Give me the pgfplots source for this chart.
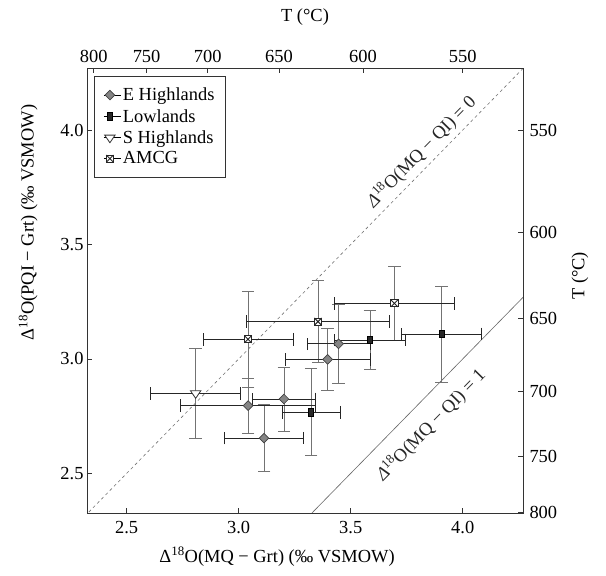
\documentclass[border=0pt]{standalone}
\usepackage{fontspec}
\setmainfont{Liberation Serif}
\usepackage{pgfplots}
\pgfplotsset{compat=1.18}
\usepackage{pgfplotstable}

\pgfdeclareplotmark{boxx}{%
  \pgfpathrectangle{\pgfqpoint{-\pgfplotmarksize}{-\pgfplotmarksize}}{\pgfqpoint{2\pgfplotmarksize}{2\pgfplotmarksize}}%
  \pgfusepathqfillstroke
  \pgfpathmoveto{\pgfqpoint{-\pgfplotmarksize}{-\pgfplotmarksize}}\pgfpathlineto{\pgfqpoint{\pgfplotmarksize}{\pgfplotmarksize}}%
  \pgfpathmoveto{\pgfqpoint{-\pgfplotmarksize}{\pgfplotmarksize}}\pgfpathlineto{\pgfqpoint{\pgfplotmarksize}{-\pgfplotmarksize}}%
  \pgfusepathqstroke}

\newcommand{\fs}{\fontsize{18.5}{21}\selectfont}

% x y ex ey
\pgfplotstableread{
x y ex ey
3.042 2.796 0.30 0.12
3.202 2.825 0.14 0.14
3.113 2.654 0.177 0.147
3.397 2.998 0.19 0.135
3.446 3.066 0.14 0.173
}\eh
\pgfplotstableread{
x y ex ey
3.323 2.767 0.13 0.19
3.586 3.083 0.157 0.13
3.905 3.109 0.18 0.21
}\lo
\pgfplotstableread{
x y ex ey
2.808 2.850 0.20 0.195
}\sh
\pgfplotstableread{
x y ex ey
3.042 3.086 0.20 0.21
3.695 3.243 0.27 0.16
3.354 3.163 0.32 0.18
}\am

\pgfplotsset{
  vbar/.style={only marks, mark=none, forget plot,
    error bars/.cd, y dir=both, y explicit,
    error bar style={black!55, line width=0.8bp},
    error mark options={rotate=90, black!55, line width=0.8bp, mark size=6.3bp}},
  hbar/.style={only marks, mark=none, forget plot,
    error bars/.cd, x dir=both, x explicit,
    error bar style={black!85, line width=0.8bp},
    error mark options={rotate=90, black!85, line width=0.8bp, mark size=6.3bp}},
  limg/.style={legend image code/.code={%
    \path (0bp,0bp) -- (17bp,0bp);
    \draw[##1] plot coordinates {(6bp,0bp)};}},
}

\begin{document}
\begin{tikzpicture}
\begin{axis}[
  name=main,
  scale only axis, width=436bp, height=445bp,
  xmin=2.323, xmax=4.269, ymin=2.327, ymax=4.271,
  axis line style={black!80, line width=0.9bp},
  xtick={2.5,3,3.5,4}, xticklabels={2.5,3.0,3.5,4.0},
  ytick={2.5,3,3.5,4}, yticklabels={2.5,3.0,3.5,4.0},
  xtick pos=lower, ytick pos=left,
  tick style={black!80, line width=0.8bp},
  major tick length=5bp,
  tick label style={font=\fs},
  xticklabel style={yshift=-5bp},
  xlabel={Δ\textsuperscript{18}O(MQ − Grt) (‰ VSMOW)},
  ylabel={Δ\textsuperscript{18}O(PQI − Grt) (‰ VSMOW)},
  every axis x label/.style={at={(axis description cs:0.436,-0.098)}, anchor=center, font=\fs},
  every axis y label/.style={at={(axis description cs:-0.135,0.653)}, anchor=center, rotate=90, font=\fs},
  legend style={at={(0,1)}, anchor=north west, xshift=7bp, yshift=-8bp, font=\fs,
    draw=black!80, line width=0.9bp, inner xsep=9bp, inner ysep=10bp, row sep=4bp,
    nodes={inner sep=1.5bp}},
  legend cell align=left,
]
\addplot[black!55, line width=0.6bp, dash pattern=on 3bp off 3bp, forget plot] coordinates {(2.2,2.2) (4.4,4.4)};
\addplot[black!60, line width=0.6bp, forget plot] coordinates {(3.2,2.2) (4.4,3.4)};

\addplot[vbar] table[x=x,y=y,y error=ey]{\eh};
\addplot[vbar] table[x=x,y=y,y error=ey]{\lo};
\addplot[vbar] table[x=x,y=y,y error=ey]{\sh};
\addplot[vbar] table[x=x,y=y,y error=ey]{\am};
\addplot[hbar] table[x=x,y=y,x error=ex]{\eh};
\addplot[hbar] table[x=x,y=y,x error=ex]{\lo};
\addplot[hbar] table[x=x,y=y,x error=ex]{\sh};
\addplot[hbar] table[x=x,y=y,x error=ex]{\am};

\addplot[only marks, limg, mark=square*, mark size=3.4bp,
  mark options={rotate=45, fill=black!48, draw=black!75, line width=0.7bp}] table[x=x,y=y]{\eh};
\addlegendentry{E Highlands}
\addplot[only marks, limg, mark=square*, mark size=3.6bp,
  mark options={xscale=0.7, fill=black!85, draw=black, line width=0.7bp}] table[x=x,y=y]{\lo};
\addlegendentry{Lowlands}
\addplot[only marks, limg, mark=triangle*, mark size=6bp,
  mark options={rotate=180, yscale=0.85, fill=white, draw=black!80, line width=0.8bp}] table[x=x,y=y]{\sh};
\addlegendentry{S Highlands}
\addplot[only marks, limg, mark=boxx, mark size=3.6bp,
  mark options={fill=white, draw=black!85, line width=0.9bp}] table[x=x,y=y]{\am};
\addlegendentry{AMCG}

\node[rotate=45.6, font=\fs, black!85] at (axis cs:3.816,3.906) {\textit{Δ}\textsuperscript{18}O(MQ − QI) = 0};
\node[rotate=45.6, font=\fs, black!85] at (axis cs:3.858,2.711) {\textit{Δ}\textsuperscript{18}O(MQ − QI) = 1};
\end{axis}

\begin{axis}[
  at={(main.south west)}, anchor=south west,
  scale only axis, width=436bp, height=445bp,
  xmin=2.323, xmax=4.269, ymin=2.327, ymax=4.271,
  axis line style={black!80, line width=0.9bp},
  xtick pos=upper, ytick pos=right, xticklabel pos=upper, yticklabel pos=right,
  xtick={2.353,2.589,2.862,3.180,3.555,4.000},
  xticklabels={800,750,700,650,600,550},
  ytick={2.33,2.575,2.860,3.177,3.551,3.997},
  yticklabels={800,750,700,650,600,550},
  tick style={black!80, line width=0.8bp},
  major tick length=5bp,
  tick label style={font=\fs},
  xticklabel style={yshift=2bp},
  yticklabel style={xshift=3bp},
  xlabel={T (°C)}, ylabel={T (°C)},
  every axis x label/.style={at={(axis description cs:0.5,1.1146)}, anchor=center, font=\fs},
  every axis y label/.style={at={(axis description cs:1.1307,0.533)}, anchor=center, rotate=90, font=\fs},
]
\end{axis}
\pgfresetboundingbox
\path ([xshift=-87bp,yshift=-63bp]main.south west) rectangle ([xshift=83bp,yshift=68bp]main.north east);
\end{tikzpicture}
\end{document}
